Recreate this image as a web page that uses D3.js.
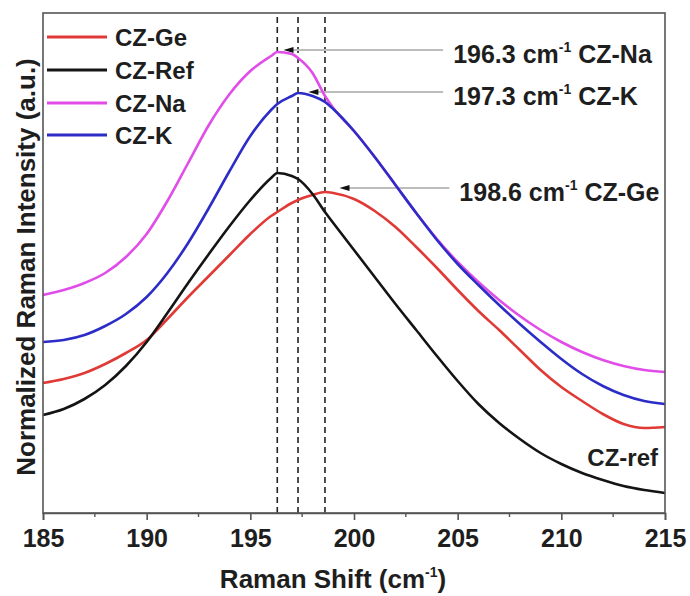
<!DOCTYPE html>
<html><head><meta charset="utf-8">
<script src="https://cdn.jsdelivr.net/npm/d3@7"></script>
<style>
body{margin:0;background:#fff}
svg{display:block}
text{font-family:"Liberation Sans",Arial,sans-serif;font-weight:bold;fill:#1e1e1e}
</style></head>
<body><svg id="chart" width="690" height="596"></svg>
<script>
// Raman shift sample positions (cm^-1)
const ramanShift = [185,186,187,188,189,190,191,192,193,194,195,196,196.3,197,197.3,198,198.6,199,200,201,202,203,204,205,206,207,208,209,210,211,212,213,214,215];
// Normalized intensities (arbitrary units, offset as in the figure)
const czGe  = [130,134,140,149,160,173,194,216,237,258,279,297,301,310,313,318,321,320,314,302,286,266,245,223,202,183,163,143,126,112,99,89,85,86];
const czRef = [98,104,114,128,147,171,200,230,259,287,313,335,340,337,334,319,301,290,263,236,209,183,157,132,109,90,74,60,49,40,33,27,23,20];
const czNa  = [218,223,230,240,256,279,312,350,388,419,442,457,461,459,455,440,417,405,382,356,328,300,274,251,231,213,197,183,171,161,153,147,143,141];
const czK   = [171,173,178,187,199,216,240,270,305,342,377,403,409,417,420,417,411,404,382,356,328,300,273,249,228,208,189,171,154,139,127,118,112,109];

const seriesNames  = ["CZ-Ge","CZ-Ref","CZ-Na","CZ-K"];
const seriesColors = ["#e03a36","#141414","#e04de8","#2c2cc6"];
const seriesValues = [czGe, czRef, czNa, czK];

const xTicks = [185,190,195,200,205,210,215];
const xMinorTicks = [187.5,192.5,197.5,202.5,207.5,212.5];

// Peak annotations
const peakShifts  = [196.3,197.3,198.6];
const peakText    = ["196.3","197.3","198.6"];
const peakSample  = ["CZ-Na","CZ-K","CZ-Ge"];
const peakLevel   = [463,421,325];
const arrowTip    = [196.6,197.8,199.3];
const leaderEnd   = [204.3,204.3,204.6];

const svg = d3.select("#chart");
const W = 690, H = 596;
const margin = {top:13, right:25, bottom:83, left:43};
const x = d3.scaleLinear().domain([185,215]).range([margin.left, W - margin.right]);
const y = d3.scaleLinear().domain([0,500]).range([H - margin.bottom, margin.top]);

// dashed peak markers
svg.append("g").selectAll("line").data(peakShifts).join("line")
  .attr("x1", d => x(d)).attr("x2", d => x(d))
  .attr("y1", y(0)).attr("y2", y(500))
  .attr("stroke", "#222").attr("stroke-width", 1.6).attr("stroke-dasharray", "6,4");

// leader lines
const ann = svg.append("g");
peakShifts.forEach((p, i) => {
  ann.append("line")
    .attr("x1", x(arrowTip[i]) + 6).attr("x2", x(leaderEnd[i]))
    .attr("y1", y(peakLevel[i])).attr("y2", y(peakLevel[i]))
    .attr("stroke", "#bdbdbd").attr("stroke-width", 2);
});

// curves
const line = d3.line().x((d, i) => x(ramanShift[i])).y(d => y(d)).curve(d3.curveMonotoneX);
svg.append("g").selectAll("path").data(seriesValues).join("path")
  .attr("d", d => line(d))
  .attr("fill", "none")
  .attr("stroke", (d, i) => seriesColors[i])
  .attr("stroke-width", 2.6)
  .attr("stroke-linejoin", "round");

// arrow heads and annotation texts
peakShifts.forEach((p, i) => {
  const tx = x(arrowTip[i]), ty = y(peakLevel[i]);
  ann.append("path")
    .attr("d", `M${tx},${ty} L${tx + 10},${ty - 3} L${tx + 10},${ty + 3} Z`)
    .attr("fill", "#111");
  const t = svg.append("text")
    .attr("x", x(leaderEnd[i]) + 10).attr("y", ty + 13)
    .attr("font-size", 25);
  t.append("tspan").text(peakText[i] + " cm");
  t.append("tspan").attr("font-size", 14).attr("dy", -11).text("-1");
  t.append("tspan").attr("dy", 11).text(" " + peakSample[i]);
});

// frame
svg.append("rect")
  .attr("x", margin.left).attr("y", margin.top)
  .attr("width", W - margin.left - margin.right)
  .attr("height", H - margin.top - margin.bottom)
  .attr("fill", "none").attr("stroke", "#555").attr("stroke-width", 1.6);

// x axis
const xAxis = svg.append("g").attr("transform", `translate(0,${y(0)})`)
  .call(d3.axisBottom(x).tickValues(xTicks).tickSize(7).tickPadding(9).tickFormat(d3.format("d")));
xAxis.select(".domain").attr("stroke", "#555").attr("stroke-width", 1.6);
xAxis.selectAll(".tick line").attr("stroke", "#555").attr("stroke-width", 1.6);
xAxis.selectAll(".tick text").attr("font-size", 25).attr("font-family", "Liberation Sans, Arial, sans-serif").attr("font-weight", "bold").attr("fill", "#1e1e1e");
svg.append("g").selectAll("line").data(xMinorTicks).join("line")
  .attr("x1", d => x(d)).attr("x2", d => x(d))
  .attr("y1", y(0)).attr("y2", y(0) + 4)
  .attr("stroke", "#555").attr("stroke-width", 1.4);

// axis titles
const xt = svg.append("text").attr("x", 333).attr("y", 588).attr("text-anchor", "middle").attr("font-size", 26);
xt.append("tspan").text("Raman Shift (cm");
xt.append("tspan").attr("font-size", 14).attr("dy", -11).text("-1");
xt.append("tspan").attr("dy", 11).text(")");

svg.append("text")
  .attr("transform", "translate(35,267) rotate(-90)")
  .attr("text-anchor", "middle").attr("font-size", 26)
  .text("Normalized Raman Intensity (a.u.)");

// legend
const legendY = [37,70,103,135];
const lg = svg.append("g");
seriesNames.forEach((n, i) => {
  lg.append("line").attr("x1", 47).attr("x2", 107)
    .attr("y1", legendY[i]).attr("y2", legendY[i])
    .attr("stroke", seriesColors[i]).attr("stroke-width", 3.2);
  lg.append("text").attr("x", 115).attr("y", legendY[i] + 9).attr("font-size", 24).text(n);
});

// CZ-ref label
svg.append("text").attr("x", 658).attr("y", 466).attr("text-anchor", "end").attr("font-size", 24).text("CZ-ref");
</script></body></html>
